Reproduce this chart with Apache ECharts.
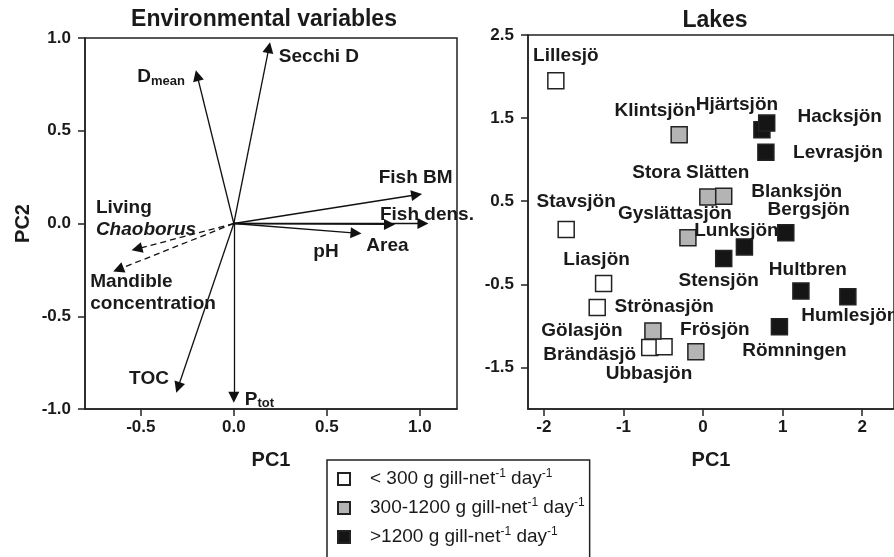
<!DOCTYPE html>
<html>
<head>
<meta charset="utf-8">
<script src="https://cdn.jsdelivr.net/npm/echarts@6/dist/echarts.min.js"></script>
<style>
  html, body { margin: 0; padding: 0; background: #fff; }
  #chart { width: 894px; height: 557px; }
</style>
</head>
<body>
<div id="chart"></div>
<script>
// 左图：环境变量载荷（箭头终点）
const varNames = ['Dmean', 'Secchi D', 'Fish BM', 'Fish dens.', 'Area', 'pH',
  'Living Chaoborus', 'Mandible concentration', 'TOC', 'Ptot'];
const varPC1 = [-0.197, 0.189, 0.983, 1.017, 0.837, 0.657, -0.521, -0.621, -0.300, 0.000];
const varPC2 = [0.798, 0.948, 0.155, 0.000, -0.005, -0.052, -0.137, -0.248, -0.884, -0.937];
const passiveVars = ['Living Chaoborus', 'Mandible concentration'];   // 虚线箭头

// 右图：湖泊得分
const lakeNames = ['Lillesjö', 'Klintsjön', 'Hjärtsjön', 'Hacksjön', 'Levrasjön', 'Stora Slätten',
  'Blanksjön', 'Stavsjön', 'Gyslättasjön', 'Bergsjön', 'Lunksjön', 'Stensjön', 'Liasjön',
  'Strönasjön', 'Hultbren', 'Humlesjön', 'Römningen', 'Gölasjön', 'Brändäsjö', 'Ubbasjön', 'Frösjön'];
const lakePC1 = [-1.85, -0.30, 0.74, 0.80, 0.79, 0.06, 0.26, -1.72, -0.19, 1.04, 0.52, 0.26, -1.25,
  -1.33, 1.23, 1.82, 0.96, -0.63, -0.67, -0.49, -0.09];
const lakePC2 = [1.95, 1.30, 1.36, 1.44, 1.09, 0.55, 0.56, 0.16, 0.06, 0.12, -0.05, -0.19, -0.49,
  -0.78, -0.58, -0.65, -1.01, -1.06, -1.26, -1.25, -1.31];
const lakeGroup = [0, 1, 2, 2, 2, 1, 1, 0, 1, 2, 2, 2, 0, 0, 2, 2, 2, 1, 0, 0, 1];
const groupNames = ['< 300', '300-1200', '>1200'];

// 刻度
const leftXTicks = [-0.5, 0, 0.5, 1.0];
const leftYTicks = [-1.0, -0.5, 0, 0.5, 1.0];
const rightXTicks = [-2, -1, 0, 1, 2];
const rightYTicks = [-1.5, -0.5, 0.5, 1.5, 2.5];

// 样式
const INK = '#1a1a1a';
const FONT = '"Liberation Sans", Arial, Helvetica, sans-serif';
const groupColors = ['#ffffff', '#b4b4b4', '#151515'];

// 标签偏移（像素，相对数据点）
const varLabelStyle = {
  'Dmean': { offset: [-36, 1], text: '{n|D}{sub|mean}' },
  'Secchi D': { offset: [50, 9] },
  'Fish BM': { offset: [-1, -17] },
  'Fish dens.': { offset: [4, -9] },
  'Area': { offset: [-2, 21] },
  'pH': { offset: [-30, 19] },
  'Living Chaoborus': { offset: [-41, -30], align: 'left', text: 'Living\n{i|Chaoborus}' },
  'Mandible concentration': { offset: [-28, 23], align: 'left', text: 'Mandible\nconcentration' },
  'TOC': { offset: [-29, -9] },
  'Ptot': { offset: [11, 2], align: 'left', text: '{n|P}{sub|tot}' }
};
const lakeLabelOffset = {
  'Lillesjö': [10, -25], 'Klintsjön': [-24, -24], 'Hjärtsjön': [-25, -25], 'Hacksjön': [73, -6],
  'Levrasjön': [72, 1], 'Stora Slätten': [-17, -24], 'Blanksjön': [73, -4], 'Stavsjön': [10, -28],
  'Gyslättasjön': [-13, -24], 'Bergsjön': [23, -23], 'Lunksjön': [-8, -16], 'Stensjön': [-5, 22],
  'Liasjön': [-7, -24], 'Strönasjön': [67, -1], 'Hultbren': [7, -21], 'Humlesjön': [2, 19],
  'Römningen': [15, 24], 'Gölasjön': [-71, 0], 'Brändäsjö': [-60, 7], 'Ubbasjön': [-15, 27],
  'Frösjön': [19, -22]
};

const chart = echarts.init(document.getElementById('chart'));

function makeAxis(opts) {
  return {
    type: 'value',
    gridIndex: opts.grid,
    min: opts.min,
    max: opts.max,
    name: opts.name || '',
    nameLocation: 'middle',
    nameGap: opts.nameGap,
    nameTextStyle: { fontSize: 20, fontWeight: 'bold', color: INK, fontFamily: FONT },
    axisLine: { show: true, onZero: false, lineStyle: { color: '#222', width: 1.5 } },
    axisTick: { show: true, length: 7, customValues: opts.ticks, lineStyle: { color: '#222', width: 1.5 } },
    axisLabel: {
      customValues: opts.ticks,
      formatter: opts.fmt,
      fontSize: 17, fontWeight: 'bold', color: INK, fontFamily: FONT,
      margin: opts.margin
    },
    splitLine: { show: false }
  };
}

const arrowData = varNames.map((n, i) => ({
  coords: [[0, 0], [varPC1[i], varPC2[i]]],
  lineStyle: { type: passiveVars.includes(n) ? [6, 4] : 'solid' }
}));

const arrowLabelData = varNames.map((n, i) => {
  const st = varLabelStyle[n];
  return {
    name: n,
    value: [varPC1[i], varPC2[i]],
    label: { offset: st.offset, align: st.align || 'center', formatter: st.text || n }
  };
});

const lakeSeries = groupNames.map((g, gi) => ({
  name: g,
  type: 'scatter',
  xAxisIndex: 1,
  yAxisIndex: 1,
  symbol: 'rect',
  symbolSize: 16,
  itemStyle: { color: groupColors[gi], borderColor: '#222', borderWidth: 1.5, opacity: 1 },
  label: {
    show: true, position: 'inside', formatter: '{b}',
    fontSize: 19, fontWeight: 'bold', color: INK, fontFamily: FONT
  },
  emphasis: { disabled: true },
  data: lakeNames.map((n, i) => ({ n, i })).filter(d => lakeGroup[d.i] === gi).map(d => ({
    name: d.n,
    value: [lakePC1[d.i], lakePC2[d.i]],
    label: { offset: lakeLabelOffset[d.n] }
  }))
}));

const option = {
  animation: false,
  backgroundColor: '#fff',
  textStyle: { fontFamily: FONT },
  graphic: [
    { type: 'text', x: 264, y: 20, style: { text: 'Environmental variables', align: 'center', verticalAlign: 'middle', fontSize: 23, fontWeight: 'bold', fill: INK, fontFamily: FONT } },
    { type: 'text', x: 715, y: 21, style: { text: 'Lakes', align: 'center', verticalAlign: 'middle', fontSize: 23, fontWeight: 'bold', fill: INK, fontFamily: FONT } }
  ],
  grid: [
    { left: 85, top: 38, width: 372, height: 371, show: true, borderColor: '#222', borderWidth: 1.5, backgroundColor: 'transparent' },
    { left: 528, top: 35, width: 382, height: 374, show: true, borderColor: '#222', borderWidth: 1.5, backgroundColor: 'transparent' }
  ],
  xAxis: [
    makeAxis({ grid: 0, min: -0.8, max: 1.2, ticks: leftXTicks, fmt: v => v.toFixed(1), name: 'PC1', nameGap: 41, margin: 10 }),
    makeAxis({ grid: 1, min: -2.2, max: 2.4, ticks: rightXTicks, fmt: v => String(v), name: 'PC1', nameGap: 41, margin: 10 })
  ],
  yAxis: [
    makeAxis({ grid: 0, min: -1, max: 1, ticks: leftYTicks, fmt: v => v.toFixed(1), name: 'PC2', nameGap: 52, margin: 14 }),
    makeAxis({ grid: 1, min: -2, max: 2.5, ticks: rightYTicks, fmt: v => v.toFixed(1), margin: 14 })
  ],
  legend: {
    orient: 'vertical',
    left: 327,
    top: 460,
    height: 120,
    padding: [8, 5, 40, 10],
    itemGap: 7,
    itemWidth: 12,
    itemHeight: 12,
    borderColor: '#222',
    borderWidth: 1.5,
    data: groupNames,
    selectedMode: false,
    formatter: name => `{g| }${name} g gill-net{s|-1} day{s|-1}`,
    textStyle: {
      fontSize: 19, color: INK, fontFamily: FONT, lineHeight: 22,
      rich: {
        g: { width: 15 },
        s: { fontSize: 12, verticalAlign: 'top', lineHeight: 22, color: INK, fontFamily: FONT }
      }
    }
  },
  series: [
    {
      type: 'lines',
      coordinateSystem: 'cartesian2d',
      xAxisIndex: 0,
      yAxisIndex: 0,
      symbol: ['none', 'triangle'],
      symbolSize: 11,
      lineStyle: { color: '#111', width: 1.3, opacity: 1 },
      emphasis: { disabled: true },
      data: arrowData
    },
    {
      type: 'scatter',
      xAxisIndex: 0,
      yAxisIndex: 0,
      symbolSize: 1,
      itemStyle: { color: 'rgba(0,0,0,0)', opacity: 1 },
      label: {
        show: true, position: 'inside', verticalAlign: 'middle',
        fontSize: 19, fontWeight: 'bold', color: INK, fontFamily: FONT, lineHeight: 22,
        rich: {
          n: { fontSize: 19, fontWeight: 'bold', color: INK, fontFamily: FONT },
          sub: { fontSize: 13, fontWeight: 'bold', color: INK, fontFamily: FONT, verticalAlign: 'bottom', padding: [8, 0, 0, 0] },
          i: { fontSize: 19, fontWeight: 'bold', fontStyle: 'italic', color: INK, fontFamily: FONT }
        }
      },
      emphasis: { disabled: true },
      data: arrowLabelData
    },
    ...lakeSeries
  ]
};

chart.setOption(option);
window.addEventListener('resize', () => chart.resize());
</script>
</body>
</html>
